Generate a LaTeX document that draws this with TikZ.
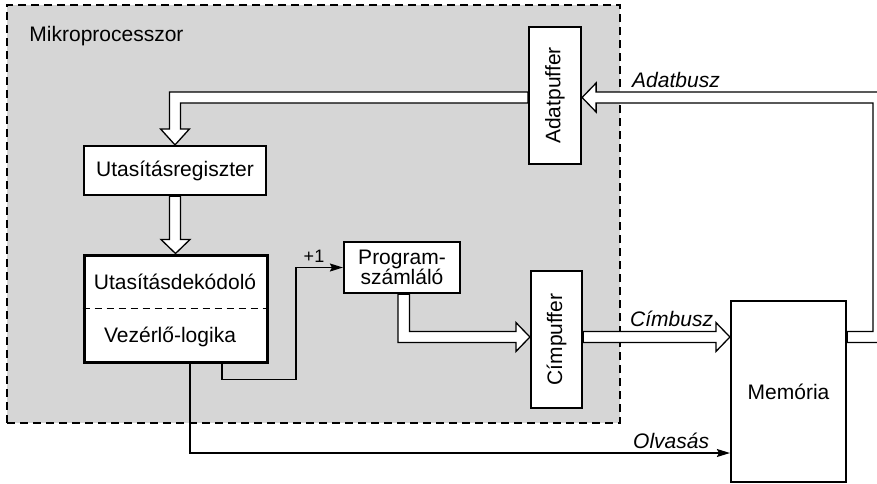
\documentclass[tikz,border=0pt]{standalone}
\usepackage{fontspec}
\setmainfont{Liberation Sans}
\usepackage{graphicx}
\usetikzlibrary{arrows.meta,positioning,calc}
\definecolor{procgray}{RGB}{214,214,214}
\tikzset{
  procbox/.style={draw, fill=procgray, line width=1.5pt, dash pattern=on 8pt off 5pt, inner sep=0pt},
  unitbox/.style={draw, fill=white, line width=2.2pt, inner sep=0pt, align=center, font=\fontsize{21}{20}\selectfont},
  busln/.style={draw, fill=white, line width=1.3pt, line join=miter},
  sigln/.style={-{Stealth[length=13pt,width=8pt,inset=2pt]}, line width=1.3pt},
  txtlbl/.style={inner sep=0pt, anchor=base, font=\fontsize{21}{24}\selectfont},
  buslbl/.style={inner sep=0pt, anchor=base west, font=\fontsize{21}{24}\selectfont\itshape},
}

\begin{document}
\begin{tikzpicture}[x=1pt,y=-1pt]
  \useasboundingbox (0,0) rectangle (877,483);
  \clip (0,0) rectangle (877,483);
  % processor frame
  \node[procbox, minimum width=613pt, minimum height=418pt] (proc) at (313.5,214) {};
  \node[buslbl, font=\fontsize{21}{24}\selectfont] (proclbl) at ($(proc.north west)+(23,37)$) {Mikroprocesszor};
  % units
  \node[unitbox, minimum width=52pt, minimum height=137pt] (adat) at (555,95.5) {\rotatebox{90}{Adatpuffer}};
  \node[unitbox, minimum width=182pt, minimum height=49pt] (ureg) at (175,170.5) {Utasításregiszter};
  \node[unitbox, line width=3pt, minimum width=183pt, minimum height=107pt] (dek) at (175.5,308.5) {};
  \draw[line width=1.5pt, dash pattern=on 7pt off 5pt] (dek.west) -- (dek.east);
  \node[txtlbl] (dektxt) at (175,289) {Utasításdekódoló};
  \node[txtlbl] (vezlog) at (170,342) {Vezérlő-logika};
  \node[unitbox, minimum width=116pt, minimum height=51pt] (prog) at (402,267.5) {Program-\\számláló};
  \node[unitbox, minimum width=51pt, minimum height=137pt] (cim) at (556.5,339.5) {\rotatebox{90}{Címpuffer}};
  \node[unitbox, minimum width=115pt, minimum height=181pt] (mem) at (788.5,391.5) {Memória};
  % data bus: memory -> data buffer
  \coordinate (adtip) at ($(adat.east)+(0,2)$);
  \path[busln] ($(mem.east)+(0,-60)$) -- (873,331.5) -- (873,103) -- ($(adtip)+(14,5.5)$)
    -- ++(0,9) -- (adtip) -- ++(14,-14.5) -- ++(0,9) -- (884,92) -- (884,342.5)
    -- ($(mem.east)+(0,-49)$) -- cycle;
  % data buffer -> instruction register
  \path[busln] ($(adat.west)+(0,-3.5)$) -- (169.5,92) |- ($(ureg.north)+(-14.5,-16)$)
    -- (ureg.north) -- ++(14.5,-16) -| (180.5,103) -- ($(adat.west)+(0,7.5)$) -- cycle;
  % instruction register -> decoder
  \path[busln] ($(ureg.south)+(-5.5,0)$) |- ($(dek.north)+(-14.5,-14)$) -- (dek.north)
    -- ++(14.5,-14) -| ($(ureg.south)+(5.5,0)$) -- cycle;
  % program counter -> address buffer
  \coordinate (pctip) at ($(cim.west)+(0,-2.5)$);
  \path[busln] ($(prog.south)+(-4,0)$) |- ($(pctip)+(-14,5.5)$) -- ++(0,9) -- (pctip)
    -- ++(-14,-14.5) -- ++(0,9) -| ($(prog.south)+(7.5,0)$) -- cycle;
  % address bus
  \coordinate (cbtip) at ($(mem.west |- cim.east)+(0,-2.5)$);
  \path[busln] ($(cim.east)+(0,-8)$) -- ($(cbtip)+(-14,-5.5)$) -- ++(0,-9) -- (cbtip)
    -- ++(-14,14.5) -- ++(0,-9) -- ($(cim.east)+(0,3)$) -- cycle;
  % +1 and read signals
  \draw[sigln] ($(dek.south)+(46.5,0)$) -- ++(0,16) -| ($(prog.west)+(-47,0)$) -- (prog.west);
  \node[txtlbl, font=\fontsize{18}{20}\selectfont] (inc) at (314,262) {+1};
  \draw[sigln] ($(dek.south)+(14.5,0)$) |- (mem.west |- 0,453);
  % bus labels
  \node[buslbl] (adlbl) at (632,87) {Adatbusz};
  \node[buslbl] (cblbl) at (630,326) {Címbusz};
  \node[buslbl] (olvlbl) at (633,448) {Olvasás};
\end{tikzpicture}
\end{document}
